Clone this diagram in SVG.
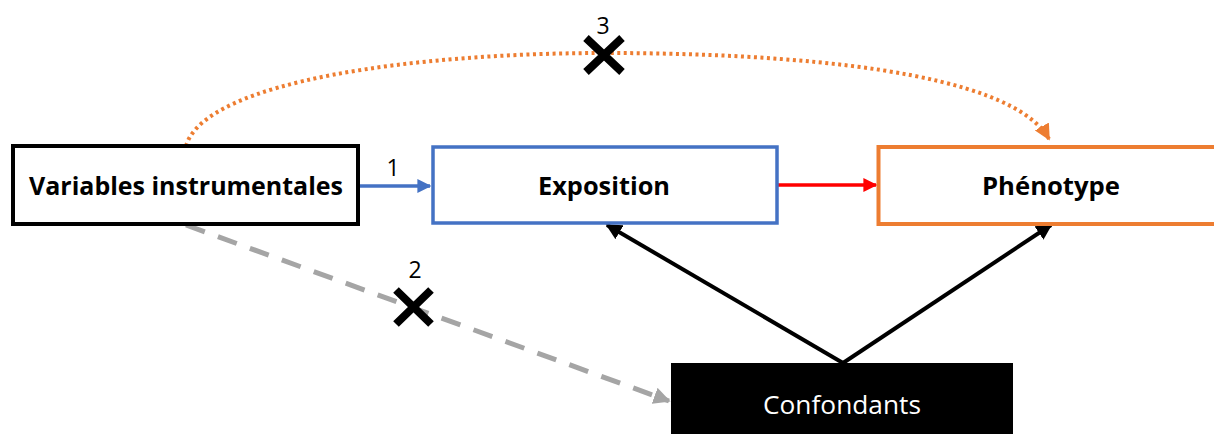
<svg xmlns="http://www.w3.org/2000/svg" width="1214" height="434" viewBox="0 0 1214 434">
<style>
.lbl{font-family:"Open Sans","Liberation Sans",sans-serif;font-weight:bold;font-size:25px;fill:#000;text-anchor:middle}
.num{font-family:"Open Sans","Liberation Sans",sans-serif;font-size:23px;fill:#000;text-anchor:middle}
.cross{stroke:#000;stroke-width:8;stroke-linecap:butt}
</style>
<defs>
<marker id="ab" viewBox="0 0 10 10" refX="9" refY="5" markerWidth="4" markerHeight="4" orient="auto" markerUnits="strokeWidth"><path d="M0,0 L10,5 L0,10 Z" fill="#4472C4"/></marker>
<marker id="ar" viewBox="0 0 10 10" refX="9" refY="5" markerWidth="4" markerHeight="4" orient="auto" markerUnits="strokeWidth"><path d="M0,0 L10,5 L0,10 Z" fill="#FF0000"/></marker>
<marker id="ak" viewBox="0 0 10 10" refX="9" refY="5" markerWidth="4" markerHeight="4" orient="auto" markerUnits="strokeWidth"><path d="M0,0 L10,5 L0,10 Z" fill="#000"/></marker>
<marker id="ag" viewBox="0 0 10 10" refX="9" refY="5" markerWidth="3.4" markerHeight="3.4" orient="auto" markerUnits="strokeWidth"><path d="M0,0 L10,5 L0,10 Z" fill="#A5A5A5"/></marker>
<marker id="ao" viewBox="0 0 10 10" refX="9" refY="5" markerWidth="4" markerHeight="4" orient="auto" markerUnits="strokeWidth"><path d="M0,0 L10,5 L0,10 Z" fill="#ED7D31"/></marker>
</defs>
<rect width="1214" height="434" fill="#fff"/>
<g id="connectors" fill="none">
<path d="M186,146 C205,80 420,53 604,53 C790,53 1010,70 1049,139" stroke="#ED7D31" stroke-width="4" stroke-dasharray="3 3.5" marker-end="url(#ao)"/>
<line x1="358" y1="186" x2="430" y2="186" stroke="#4472C4" stroke-width="3.5" marker-end="url(#ab)"/>
<line x1="778" y1="185" x2="876" y2="185" stroke="#FF0000" stroke-width="3.5" marker-end="url(#ar)"/>
<line x1="186" y1="225" x2="669" y2="401" stroke="#A5A5A5" stroke-width="5" stroke-dasharray="20 14" marker-end="url(#ag)"/>
<line x1="843" y1="363" x2="607" y2="225" stroke="#000" stroke-width="4" marker-end="url(#ak)"/>
<line x1="843" y1="363" x2="1051" y2="225" stroke="#000" stroke-width="4" marker-end="url(#ak)"/>
<path class="cross" d="M396,290 L431,324 M431,290 L396,324"/>
<path class="cross" d="M586,38 L622,72 M622,38 L586,72"/>
<text class="num" x="393" y="176">1</text>
<text class="num" x="415" y="278">2</text>
<text class="num" x="603" y="34">3</text>
</g>
<g id="node-vi">
<rect x="13" y="146" width="345" height="78" fill="#fff" stroke="#000" stroke-width="4"/>
<text class="lbl" x="186" y="195" textLength="314" lengthAdjust="spacingAndGlyphs">Variables instrumentales</text>
</g>
<g id="node-exposition">
<rect x="433" y="147" width="344" height="76" fill="#fff" stroke="#4472C4" stroke-width="3.5"/>
<text class="lbl" x="604" y="195" textLength="132" lengthAdjust="spacingAndGlyphs">Exposition</text>
</g>
<g id="node-phenotype">
<rect x="878.5" y="147" width="345" height="77" fill="#fff" stroke="#ED7D31" stroke-width="4"/>
<text class="lbl" x="1051" y="195" textLength="138" lengthAdjust="spacingAndGlyphs">Phénotype</text>
</g>
<g id="node-confondants">
<rect x="671" y="363" width="342" height="80" fill="#000"/>
<text x="842" y="414" font-family="'Open Sans','Liberation Sans',sans-serif" font-size="26" fill="#fff" text-anchor="middle" textLength="158" lengthAdjust="spacingAndGlyphs">Confondants</text>
</g>
</svg>
